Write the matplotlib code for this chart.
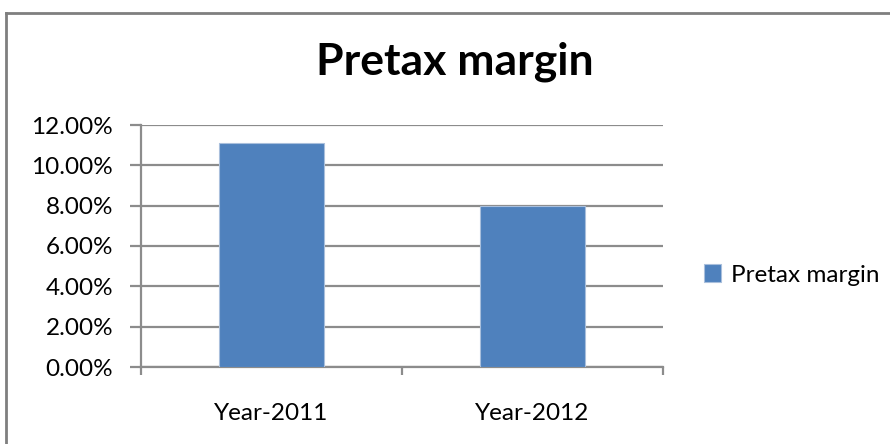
import matplotlib
matplotlib.use("Agg")
import matplotlib.pyplot as plt
from matplotlib.lines import Line2D
from matplotlib.ticker import FuncFormatter, FixedLocator

# pretax margin per year, in percent
years = ["Year-2011", "Year-2012"]
pretax_margin = [11.1, 8.0]
series_name = "Pretax margin"
y_ticks = [0, 2, 4, 6, 8, 10, 12]

plt.rcParams["font.family"] = ["Lato", "DejaVu Sans"]

BAR = "#4F81BD"
GRID = "#8C8C8C"

fig = plt.figure(figsize=(8.9, 4.44), dpi=100)
ax = fig.add_axes([141 / 890, 1 - 367 / 444, 522 / 890, 242 / 444])

x = list(range(len(years)))
ax.bar(x, pretax_margin, width=0.4, color=BAR, edgecolor="#A9BFDC",
       linewidth=0.8, label=series_name, zorder=3)

ax.set_xlim(-0.5, len(years) - 0.5)
ax.set_ylim(0, 12)
ax.set_yticks(y_ticks)
ax.yaxis.set_major_formatter(FuncFormatter(lambda v, _: f"{v:.2f}%"))
ax.yaxis.grid(True, color=GRID, linewidth=1.6, zorder=0)

# category labels in the middle, tick marks on the category borders
ax.set_xticks(x)
ax.set_xticklabels(years)
ax.xaxis.set_minor_locator(FixedLocator([-0.5, 0.5, 1.5]))
ax.tick_params(axis="x", which="major", length=0, pad=26, labelsize=17.5)
ax.tick_params(axis="x", which="minor", length=6, width=1.6, color=GRID)
ax.tick_params(axis="y", length=8, width=1.6, color=GRID, pad=12, labelsize=17.5)

for side in ["top", "right"]:
    ax.spines[side].set_visible(False)
for side in ["left", "bottom"]:
    ax.spines[side].set_color(GRID)
    ax.spines[side].set_linewidth(1.6)

fig.text(455 / 890, 1 - 75 / 444, "Pretax margin", ha="center",
         va="baseline", fontsize=32, fontweight="bold")

ax.legend(loc="center left", bbox_to_anchor=(704 / 890, 1 - 275 / 444),
          bbox_transform=fig.transFigure, frameon=False, fontsize=17.5,
          handlelength=0.7, handleheight=0.7, handletextpad=0.4,
          borderaxespad=0, borderpad=0)

# chart area border (only top and left edges fall inside the image)
fig.add_artist(Line2D([6 / 890, 6 / 890], [0, 1 - 13 / 444],
                      transform=fig.transFigure, color="#7F7F7F", linewidth=2))
fig.add_artist(Line2D([6 / 890, 1], [1 - 13 / 444, 1 - 13 / 444],
                      transform=fig.transFigure, color="#7F7F7F", linewidth=2))

fig.savefig("out.png", dpi=100)
